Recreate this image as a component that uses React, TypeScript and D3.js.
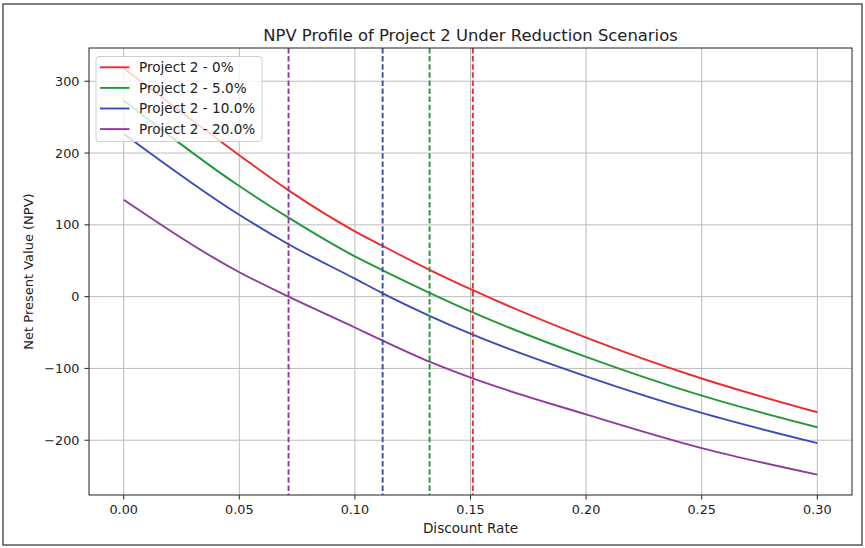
import React, { useEffect, useRef } from "react";
import * as d3 from "d3";

const rates = [0, 0.05, 0.0713, 0.1, 0.1118, 0.1325, 0.151, 0.2, 0.25, 0.3];

const npv0 = [318, 197, 148, 91, 71, 37, 9, -57, -114, -161];
const npv5 = [273, 154, 110, 56, 37, 5, -22, -84, -138, -182];
const npv10 = [227, 114, 73, 25, 5, -27, -53, -111, -162, -204];
const npv20 = [135, 34, 0, -43, -61, -91, -114, -164, -211, -248];

const seriesNames = [
  "Project 2 - 0%",
  "Project 2 - 5.0%",
  "Project 2 - 10.0%",
  "Project 2 - 20.0%",
];
const seriesColors = ["#f02a2a", "#23983a", "#3a4bb6", "#8f3a9f"];
// IRR markers (dashed verticals)
const irrRates = [0.151, 0.1323, 0.112, 0.0713];

const xTicks = [0, 0.05, 0.1, 0.15, 0.2, 0.25, 0.3];
const yTicks = [-200, -100, 0, 100, 200, 300];

const W = 865;
const H = 548;

function App() {
  const ref = useRef<SVGSVGElement>(null);

  useEffect(() => {
    const svg = d3.select(ref.current);
    svg.selectAll("*").remove();

    const font = "'DejaVu Sans', sans-serif";
    const m = { left: 89, right: 852, top: 48, bottom: 495 };
    const allSeries = [npv0, npv5, npv10, npv20];

    const x = d3.scaleLinear().domain([-0.015, 0.315]).range([m.left, m.right]);
    const yMin = d3.min(allSeries, (s) => d3.min(s)) as number;
    const yMax = d3.max(allSeries, (s) => d3.max(s)) as number;
    const pad = (yMax - yMin) * 0.05;
    const y = d3
      .scaleLinear()
      .domain([yMin - pad, yMax + pad])
      .range([m.bottom, m.top]);

    // outer frame of the picture
    svg
      .append("rect")
      .attr("x", 3)
      .attr("y", 4)
      .attr("width", 859)
      .attr("height", 541)
      .attr("fill", "white")
      .attr("stroke", "#555")
      .attr("stroke-width", 1.5);

    // grid
    const grid = svg.append("g").attr("stroke", "#bdbdbd").attr("stroke-width", 1);
    grid
      .selectAll("line.gx")
      .data(xTicks)
      .join("line")
      .attr("x1", (d) => x(d))
      .attr("x2", (d) => x(d))
      .attr("y1", m.top)
      .attr("y2", m.bottom);
    grid
      .selectAll("line.gy")
      .data(yTicks)
      .join("line")
      .attr("x1", m.left)
      .attr("x2", m.right)
      .attr("y1", (d) => y(d))
      .attr("y2", (d) => y(d));

    // curves
    const line = d3
      .line<number>()
      .x((_, i) => x(rates[i]))
      .y((d) => y(d))
      .curve(d3.curveMonotoneX);

    svg
      .append("g")
      .selectAll("path")
      .data(allSeries)
      .join("path")
      .attr("d", (d) => line(d))
      .attr("fill", "none")
      .attr("stroke", (_, i) => seriesColors[i])
      .attr("stroke-width", 1.9);

    // IRR dashed lines
    svg
      .append("g")
      .selectAll("line")
      .data(irrRates)
      .join("line")
      .attr("x1", (d) => x(d))
      .attr("x2", (d) => x(d))
      .attr("y1", m.top)
      .attr("y2", m.bottom)
      .attr("stroke", (_, i) => seriesColors[i])
      .attr("stroke-width", 1.9)
      .attr("stroke-dasharray", "5.5,2.6");

    // axes frame
    svg
      .append("rect")
      .attr("x", m.left)
      .attr("y", m.top)
      .attr("width", m.right - m.left)
      .attr("height", m.bottom - m.top)
      .attr("fill", "none")
      .attr("stroke", "#222")
      .attr("stroke-width", 1);

    // x ticks
    const xg = svg.append("g");
    xg.selectAll("line")
      .data(xTicks)
      .join("line")
      .attr("x1", (d) => x(d))
      .attr("x2", (d) => x(d))
      .attr("y1", m.bottom)
      .attr("y2", m.bottom + 4.5)
      .attr("stroke", "#222");
    xg.selectAll("text")
      .data(xTicks)
      .join("text")
      .attr("x", (d) => x(d))
      .attr("y", m.bottom + 19)
      .attr("text-anchor", "middle")
      .style("font", `12.8px ${font}`)
      .attr("fill", "#222")
      .text((d) => d3.format(".2f")(d));

    // y ticks
    const yg = svg.append("g");
    yg.selectAll("line")
      .data(yTicks)
      .join("line")
      .attr("x1", m.left - 4.5)
      .attr("x2", m.left)
      .attr("y1", (d) => y(d))
      .attr("y2", (d) => y(d))
      .attr("stroke", "#222");
    yg.selectAll("text")
      .data(yTicks)
      .join("text")
      .attr("x", m.left - 9.5)
      .attr("y", (d) => y(d) + 4.6)
      .attr("text-anchor", "end")
      .style("font", `12.8px ${font}`)
      .attr("fill", "#222")
      .text((d) => (d < 0 ? "\u2212" + Math.abs(d) : String(d)));

    // labels
    svg
      .append("text")
      .attr("x", (m.left + m.right) / 2)
      .attr("y", 41)
      .attr("text-anchor", "middle")
      .style("font", `16.4px ${font}`)
      .attr("fill", "#222")
      .text("NPV Profile of Project 2 Under Reduction Scenarios");
    svg
      .append("text")
      .attr("x", (m.left + m.right) / 2)
      .attr("y", 533)
      .attr("text-anchor", "middle")
      .style("font", `13.6px ${font}`)
      .attr("fill", "#222")
      .text("Discount Rate");
    svg
      .append("text")
      .attr("transform", `translate(33,${(m.top + m.bottom) / 2}) rotate(-90)`)
      .attr("text-anchor", "middle")
      .style("font", `13px ${font}`)
      .attr("fill", "#222")
      .text("Net Present Value (NPV)");

    // legend
    const lg = svg.append("g");
    lg.append("rect")
      .attr("x", 96)
      .attr("y", 56.5)
      .attr("width", 166)
      .attr("height", 85)
      .attr("rx", 3)
      .attr("fill", "white")
      .attr("fill-opacity", 0.8)
      .attr("stroke", "#d0d0d0")
      .attr("stroke-width", 1);
    const rows = lg
      .selectAll("g")
      .data(seriesNames)
      .join("g")
      .attr("transform", (_, i) => `translate(0,${67.3 + i * 20.6})`);
    rows
      .append("line")
      .attr("x1", 100)
      .attr("x2", 129.5)
      .attr("stroke", (_, i) => seriesColors[i])
      .attr("stroke-width", 1.9);
    rows
      .append("text")
      .attr("x", 139)
      .attr("y", 4.8)
      .style("font", `13.6px ${font}`)
      .attr("fill", "#222")
      .text((d) => d);
  }, []);

  return (
    <svg
      ref={ref}
      width={W}
      height={H}
      style={{ position: "absolute", left: 0, top: 0, background: "white" }}
    />
  );
}

export default App;
